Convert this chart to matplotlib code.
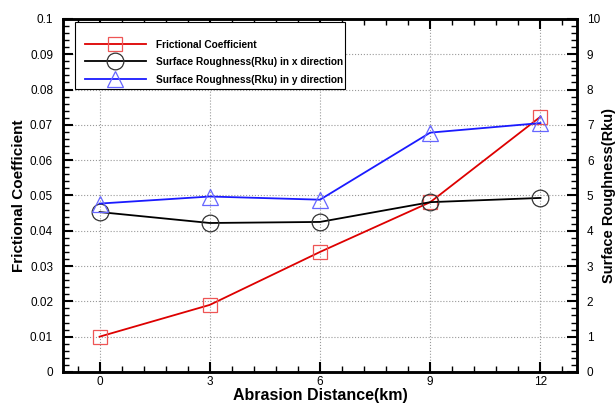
import numpy as np
import matplotlib.pyplot as plt
from matplotlib.ticker import MultipleLocator
from matplotlib.patches import Rectangle

plt.rcParams['font.family'] = ['Liberation Sans', 'DejaVu Sans']

# Données
distance = [0, 3, 6, 9, 12]
frottement = [0.010, 0.019, 0.034, 0.0481, 0.0723]
rku_x = [4.53, 4.22, 4.25, 4.81, 4.93]
rku_y = [4.77, 4.97, 4.88, 6.78, 7.05]

fig = plt.figure(figsize=(6.16, 4.03), dpi=100)
ax = fig.add_axes([0.102, 0.077, 0.835, 0.876])
ax2 = ax.twinx()

l1, = ax.plot(distance, frottement, color='#dd0000', lw=1.3, marker='s', ms=10,
              mfc='none', mec='#ee5555', mew=0.9, label='Frictional Coefficient')
l2, = ax2.plot(distance, rku_x, color='black', lw=1.3, marker='o', ms=12,
               mfc='none', mec='#333333', mew=0.9,
               label='Surface Roughness(Rku) in x direction')
l3, = ax2.plot(distance, rku_y, color='#1a1aff', lw=1.3, marker='^', ms=11,
               mfc='none', mec='#6666ff', mew=0.9,
               label='Surface Roughness(Rku) in y direction')

ax.set_xlim(-1, 13)
ax.set_ylim(0, 0.1)
ax2.set_ylim(0, 10)

ax.xaxis.set_major_locator(MultipleLocator(3))
ax.xaxis.set_minor_locator(MultipleLocator(0.6))
ax.yaxis.set_major_locator(MultipleLocator(0.01))
ax.yaxis.set_minor_locator(MultipleLocator(0.002))
ax2.yaxis.set_major_locator(MultipleLocator(1))
ax2.yaxis.set_minor_locator(MultipleLocator(0.2))
ax.set_yticks(np.arange(0, 0.101, 0.01))
ax.set_yticklabels(['0'] + ['%g' % v for v in np.arange(0.01, 0.101, 0.01)])

ax.grid(True, which='major', color='#999999', linestyle=':', linewidth=0.8)

ax.tick_params(which='major', direction='in', length=7, width=1.5, labelsize=8.5,
               top=True)
ax.tick_params(axis='y', pad=7)
ax.tick_params(axis='x', pad=3)
ax.tick_params(which='minor', direction='in', length=4, width=1, top=True)
ax2.tick_params(which='major', direction='in', length=7, width=1.5, labelsize=8.5, pad=7)
ax2.tick_params(which='minor', direction='in', length=4, width=1)

for a in (ax, ax2):
    for s in a.spines.values():
        s.set_linewidth(1.8)

ax.set_xlabel('Abrasion Distance(km)', fontsize=11.5, fontweight='bold', labelpad=0)
ax.set_ylabel('Frictional Coefficient', fontsize=11, fontweight='bold', labelpad=3)
ax2.set_ylabel('Surface Roughness(Rku)', fontsize=10.5, fontweight='bold', labelpad=1)

# cadre de la légende
ax2.add_patch(Rectangle((0.0233, 0.8017), 0.5253, 0.1898, transform=ax.transAxes,
                        facecolor='white', edgecolor='black', lw=0.8, zorder=4))
leg = ax2.legend(handles=[l1, l2, l3], loc='upper left',
                 bbox_to_anchor=(0.0428, 0.941), frameon=False,
                 handlelength=6.0, labelspacing=0.75, handleheight=1.0,
                 borderpad=0, handletextpad=1.0, borderaxespad=0,
                 prop={'weight': 'bold', 'size': 7.3})
leg.set_zorder(5)

fig.savefig('out.png', dpi=100)
